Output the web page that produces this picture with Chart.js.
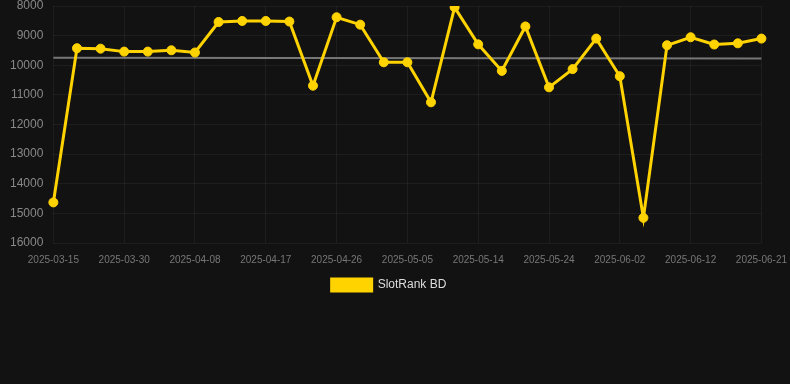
<!DOCTYPE html>
<html>
<head>
<meta charset="utf-8">
<script src="https://cdn.jsdelivr.net/npm/chart.js@4/dist/chart.umd.min.js"></script>
<style>
  html, body { margin: 0; padding: 0; background: #121212; }
  #wrap { position: relative; width: 790px; height: 301px; }
</style>
</head>
<body>
<div id="wrap"><canvas id="c"></canvas></div>
<script>
const dates = [
  '2025-03-15','2025-03-21','2025-03-27','2025-03-30','2025-04-02','2025-04-05',
  '2025-04-08','2025-04-11','2025-04-14','2025-04-17','2025-04-20','2025-04-23',
  '2025-04-26','2025-04-29','2025-05-02','2025-05-05','2025-05-08','2025-05-11',
  '2025-05-14','2025-05-17','2025-05-21','2025-05-24','2025-05-27','2025-05-30',
  '2025-06-02','2025-06-05','2025-06-09','2025-06-12','2025-06-15','2025-06-18',
  '2025-06-21'
];
const rankValues = [
  14630, 9425, 9440, 9540, 9540, 9495,
  9570, 8540, 8505, 8505, 8525, 10690,
  8380, 8630, 9900, 9900, 11250, 8045,
  9295, 10190, 8690, 10745, 10130, 9100,
  10370, 15150, 9325, 9055, 9300, 9260,
  9100
];
const trendValues = [9750].concat(new Array(29).fill(null), [9775]);
const seriesLabel = 'SlotRank BD';
const yMin = 8000, yMax = 16000, yStep = 1000;

new Chart(document.getElementById('c'), {
  type: 'line',
  data: {
    labels: dates,
    datasets: [
      {
        label: seriesLabel,
        data: rankValues,
        borderColor: '#FFD300',
        backgroundColor: '#FFD300',
        borderWidth: 3,
        pointRadius: 4.5,
        pointHoverRadius: 4.5,
        pointBorderWidth: 1,
        pointBackgroundColor: '#FFD300',
        pointBorderColor: '#FFD300',
        tension: 0
      },
      {
        label: 'trend',
        data: trendValues,
        borderColor: '#777777',
        backgroundColor: '#777777',
        borderWidth: 2,
        pointRadius: 0,
        spanGaps: true,
        tension: 0
      }
    ]
  },
  options: {
    responsive: true,
    maintainAspectRatio: false,
    animation: false,
    layout: { autoPadding: false, padding: { left: 10, right: 22, top: 0, bottom: 0 } },
    plugins: {
      legend: {
        position: 'bottom',
        labels: {
          color: '#dddddd',
          font: { family: 'Liberation Sans, Arial, sans-serif', size: 12 },
          boxWidth: 40,
          filter: (item) => item.datasetIndex === 0
        }
      },
      tooltip: { enabled: false }
    },
    scales: {
      x: {
        grid: { color: 'rgba(255,255,255,0.05)', drawTicks: true, tickLength: 8, tickColor: 'rgba(0,0,0,0)' },
        border: { display: false },
        ticks: {
          color: '#777777',
          font: { family: 'Liberation Sans, Arial, sans-serif', size: 10 },
          maxRotation: 0,
          autoSkip: true,
          padding: 3
        }
      },
      y: {
        reverse: true,
        min: yMin,
        max: yMax,
        grid: { color: 'rgba(255,255,255,0.05)', drawTicks: true, tickLength: 10, tickColor: 'rgba(0,0,0,0)' },
        border: { display: false },
        ticks: {
          stepSize: yStep,
          color: '#888888',
          font: { family: 'Liberation Sans, Arial, sans-serif', size: 12, lineHeight: 1 },
          padding: 0,
          callback: (v) => String(v)
        }
      }
    }
  }
});
</script>
</body>
</html>
